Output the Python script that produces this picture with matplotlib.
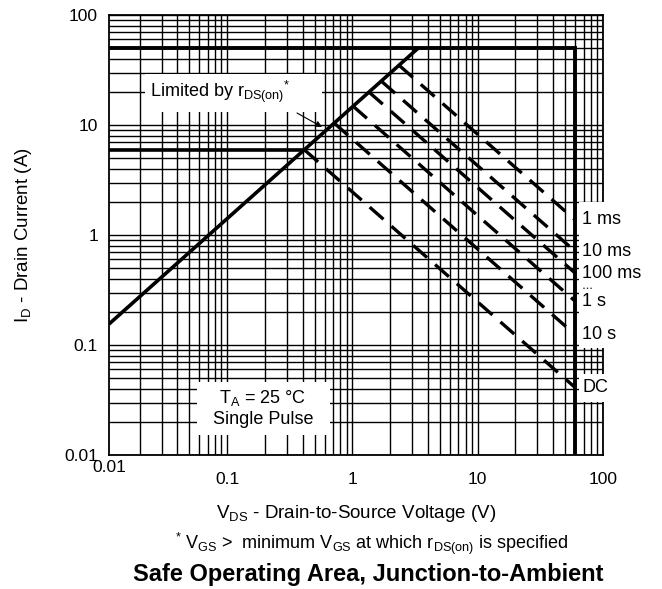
import numpy as np
import matplotlib
matplotlib.use("Agg")
import matplotlib.pyplot as plt
from matplotlib.ticker import LogLocator, NullFormatter, FixedLocator, FixedFormatter
from matplotlib.patches import Rectangle

# ---------------- data ----------------
x_limits = [0.0114, 100]
y_limits = [0.01, 100]
rds_v = [0.0114, 3.35]          # rDS(on) limit line end points (V)
rds_i = [0.155, 50.0]           # rDS(on) limit line end points (A)
id_pulse_max = 50.0             # A, horizontal limit
id_cont = 5.9                   # A, horizontal limit
vds_max = 60.0                  # V, vertical limit
pulse_labels = ["1 ms", "10 ms", "100 ms", "1 s", "10 s", "DC"]
pulse_i_at_vmax = [1.37, 0.71, 0.45, 0.25, 0.124, 0.041]   # A at vds_max
x_ticks = [0.1, 1, 10, 100]
x_tick_labels = ["0.1", "1", "10", "100"]
y_ticks = [0.01, 0.1, 1, 10, 100]
y_tick_labels = ["0.01", "0.1", "1", "10", "100"]

# ---------------- style ----------------
plt.rcParams["font.family"] = ["Liberation Sans", "DejaVu Sans"]
plt.rcParams["mathtext.fontset"] = "custom"
plt.rcParams["mathtext.rm"] = "Liberation Sans"
plt.rcParams["mathtext.it"] = "Liberation Sans:italic"
plt.rcParams["mathtext.bf"] = "Liberation Sans:bold"

W, H = 662, 589
fig = plt.figure(figsize=(W / 100, H / 100), dpi=100)
L, R, T, B = 109, 603, 15, 455
ax = fig.add_axes([L / W, 1 - B / H, (R - L) / W, (B - T) / H])
ax.set_xscale("log")
ax.set_yscale("log")
ax.set_xlim(*x_limits)
ax.set_ylim(*y_limits)

def fx(px):
    return px / W

def fy(py):
    return 1 - py / H

def ax_frac(px, py):
    return ((px - L) / (R - L), (B - py) / (B - T))

# grid
ax.xaxis.set_major_locator(FixedLocator(x_ticks))
ax.xaxis.set_major_formatter(FixedFormatter(x_tick_labels))
ax.yaxis.set_major_locator(FixedLocator(y_ticks))
ax.yaxis.set_major_formatter(FixedFormatter(y_tick_labels))
ax.xaxis.set_minor_locator(LogLocator(base=10, subs=np.arange(2, 10), numticks=20))
ax.yaxis.set_minor_locator(LogLocator(base=10, subs=np.arange(2, 10), numticks=20))
ax.xaxis.set_minor_formatter(NullFormatter())
ax.yaxis.set_minor_formatter(NullFormatter())
ax.set_axisbelow(True)
ax.grid(True, which="both", color="black", lw=1.0)
ax.tick_params(which="both", length=0, labelsize=12.5, colors="black")
ax.tick_params(axis="x", pad=12)
ax.tick_params(axis="y", pad=8)
for s in ax.spines.values():
    s.set_linewidth(1.3)
    s.set_zorder(0.6)

# extra "0.01" label at the left end of the x axis
ax.text(*ax_frac(L, 468), "0.01", transform=ax.transAxes, ha="center", va="center",
        fontsize=12.5, clip_on=False)

# white label boxes that interrupt the grid
boxes = [((145, 74), (322, 112)), ((197, 382), (330, 435)),
         ((579, 202), (612, 348)), ((579, 374), (612, 402))]
for (x0, y0), (x1, y1) in boxes:
    a0 = ax_frac(x0, y1)
    a1 = ax_frac(x1, y0)
    ax.add_patch(Rectangle(a0, a1[0] - a0[0], a1[1] - a0[1], transform=ax.transAxes,
                           facecolor="white", edgecolor="none", zorder=1, clip_on=False))

# ---------------- limit lines ----------------
lx0, ly0 = np.log10(rds_v[0]), np.log10(rds_i[0])
m = (np.log10(rds_i[1]) - ly0) / (np.log10(rds_v[1]) - lx0)

def diag_v_at(i):
    return 10 ** (lx0 + (np.log10(i) - ly0) / m)

v_top = diag_v_at(id_pulse_max)
solid_kw = dict(color="black", lw=2.6, solid_capstyle="butt", zorder=3)
ax.plot([rds_v[0], v_top], [rds_i[0], id_pulse_max], **solid_kw)
ax.plot([x_limits[0], vds_max, vds_max], [id_pulse_max, id_pulse_max, y_limits[0]],
        color="black", lw=2.8, solid_joinstyle="miter", zorder=3)
ax.plot([x_limits[0], diag_v_at(id_cont)], [id_cont, id_cont], **solid_kw)

lvm = np.log10(vds_max)
for lab, ie in zip(pulse_labels, pulse_i_at_vmax):
    lie = np.log10(ie)
    # intersection of I = ie*vmax/V with diagonal (log space)
    lx = (lie + lvm - ly0 + m * lx0) / (m + 1)
    v = np.array([10 ** lx, vds_max])
    i = ie * vds_max / v
    ax.plot(v, i, color="black", lw=2.4, dashes=(5.5, 3.2), dash_capstyle="butt", zorder=3)
    ax.annotate(lab, xy=(vds_max, ie), xytext=(5, 0), textcoords="offset points",
                ha="left", va="center", fontsize=13, annotation_clip=False, zorder=4)

ax.text(*ax_frac(583, 288), "• • •", transform=ax.transAxes, ha="left", va="center",
        fontsize=4, clip_on=False)

# ---------------- annotations ----------------
ax.text(*ax_frac(150, 92), r"Limited by r$_{\rm DS(on)}$$^{*}$", transform=ax.transAxes,
        ha="left", va="center", fontsize=13, zorder=4)
ax.annotate("", xy=ax_frac(322, 127), xytext=ax_frac(297, 113),
            xycoords="axes fraction", textcoords="axes fraction",
            arrowprops=dict(arrowstyle="-|>", lw=0.8, color="black", mutation_scale=9,
                            shrinkA=0, shrinkB=0), zorder=4)
ax.text(*ax_frac(263, 398), r"T$_{\rm A}$ = 25 °C", transform=ax.transAxes,
        ha="center", va="center", fontsize=13, zorder=4)
ax.text(*ax_frac(263, 420), "Single Pulse", transform=ax.transAxes,
        ha="center", va="center", fontsize=13, zorder=4)

fig.text(fx(24), fy(235), r"I$_{\rm D}$ - Drain Current (A)", rotation=90,
         ha="center", va="center", fontsize=13.5)
fig.text(fx(356), fy(513), r"V$_{\rm DS}$ - Drain-to-Source Voltage (V)",
         ha="center", va="center", fontsize=13.5)
fig.text(fx(372), fy(544),
         r"$^{*}$ V$_{\rm GS}$ >  minimum V$_{\rm GS}$ at which r$_{\rm DS(on)}$ is specified",
         ha="center", va="center", fontsize=13)
fig.text(fx(368), fy(575), "Safe Operating Area, Junction-to-Ambient",
         ha="center", va="center", fontsize=17, fontweight="bold")

fig.savefig("out.png", dpi=100, facecolor="white")
